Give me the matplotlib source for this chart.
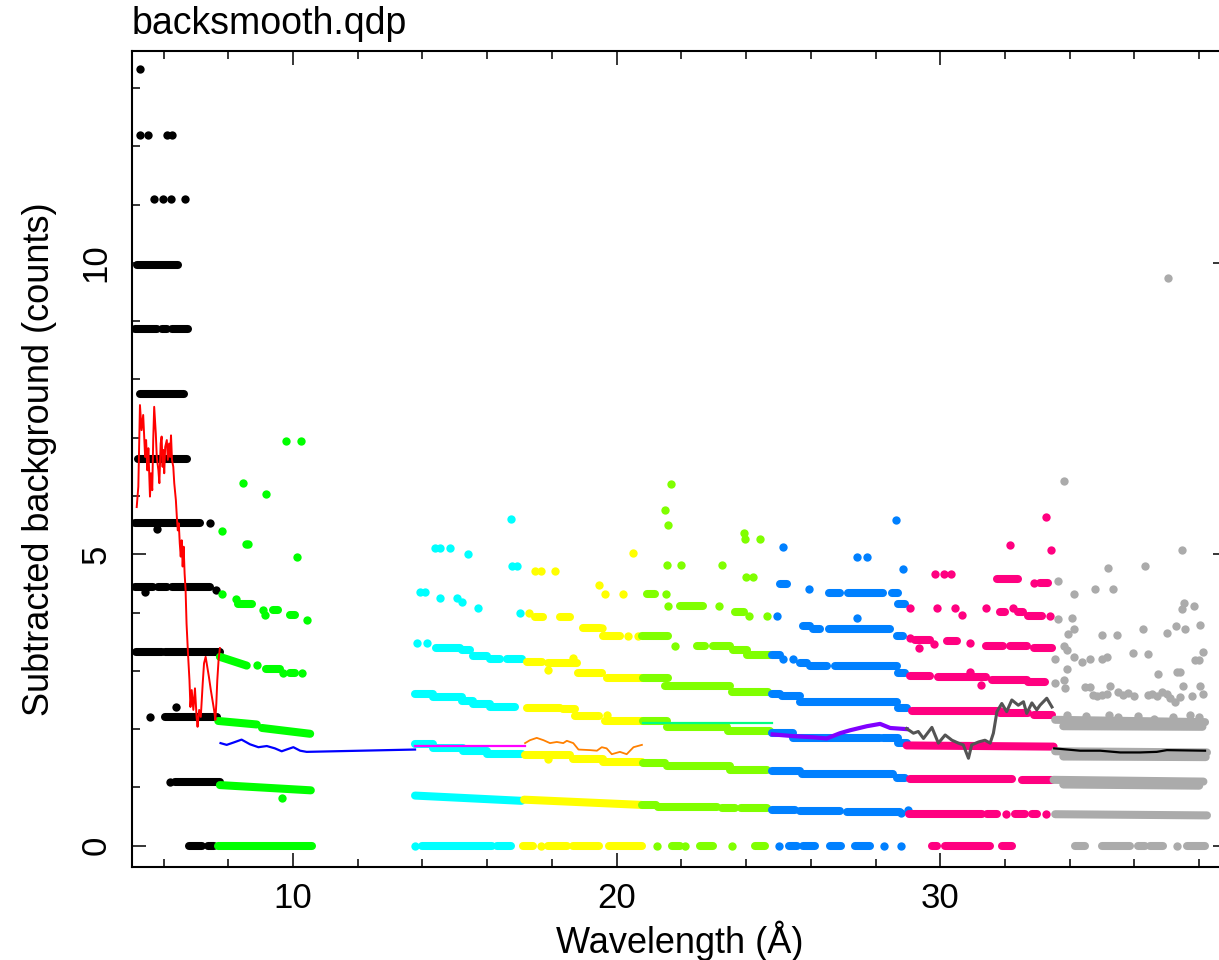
import matplotlib
matplotlib.use("Agg")
import matplotlib.pyplot as plt
from matplotlib.ticker import MultipleLocator

plt.rcParams['font.family'] = ['Liberation Sans', 'DejaVu Sans']

# PGPLOT colour indices used by QDP
C_BLACK = (0, 0, 0)
C_RED = (1, 0, 0)
C_GREEN = (0, 1, 0)
C_BLUE = (0, 0, 1)
C_CYAN = (0, 1, 1)
C_MAGENTA = (1, 0, 1)
C_YELLOW = (1, 1, 0)
C_ORANGE = (1, 0.5, 0)
C_CHART = (0.5, 1, 0)
C_SPRING = (0, 1, 0.5)
C_AZURE = (0, 0.5, 1)
C_PURPLE = (0.5, 0, 1)
C_ROSE = (1, 0, 0.5)
C_DGRAY = (0.33, 0.33, 0.33)
C_LGRAY = (0.67, 0.67, 0.67)

# ---- scattered counts: dense runs (x0, x1, y[, y_end]) and single dots (x, y) ----
black_runs = [(5.17, 6.45, 9.97), (5.12, 5.79, 8.86), (5.96, 6.10, 8.86), (6.25, 6.76, 8.86),
              (5.27, 6.64, 7.75), (5.22, 6.71, 6.64), (5.12, 7.13, 5.53),
              (5.12, 5.68, 4.43), (5.84, 6.10, 4.43), (6.25, 7.44, 4.43),
              (5.15, 5.95, 3.32), (6.05, 7.74, 3.32), (6.04, 7.64, 2.21),
              (6.35, 7.74, 1.09), (6.80, 7.20, 0.0), (7.36, 7.56, 0.0)]
black_dots = [(5.27, 13.32), (5.27, 12.20), (5.53, 12.20), (6.12, 12.20), (6.27, 12.20),
              (5.71, 11.09), (5.97, 11.09), (6.22, 11.09), (6.66, 11.09),
              (7.44, 5.53), (5.79, 5.44), (5.43, 4.36), (7.62, 4.38),
              (5.58, 2.21), (6.38, 2.38), (6.20, 1.09)]

green_runs = [(7.69, 10.58, 0.0), (7.74, 10.55, 1.04, 0.95),
              (7.69, 8.88, 2.14, 2.08), (9.04, 10.53, 2.02, 1.92),
              (7.74, 8.57, 3.24, 3.09), (9.18, 9.60, 3.03), (9.91, 10.06, 2.96),
              (8.31, 8.72, 4.15), (9.39, 9.55, 4.04), (9.91, 10.06, 3.96)]
green_dots = [(9.67, 0.82), (8.88, 3.10), (9.70, 2.96), (10.27, 2.96),
              (7.80, 4.32), (8.24, 4.23), (9.08, 4.04), (9.13, 3.96), (10.42, 3.87),
              (7.80, 5.40), (8.55, 5.18), (8.60, 5.18), (10.11, 4.96),
              (8.45, 6.23), (9.18, 6.03), (9.77, 6.95), (10.24, 6.95)]

cyan_runs = [(13.97, 16.14, 0.0), (16.29, 16.75, 0.0), (13.77, 17.06, 0.86, 0.77),
             (13.77, 14.34, 1.74), (14.34, 15.26, 1.68), (15.26, 15.99, 1.62), (15.99, 17.06, 1.57),
             (13.77, 14.34, 2.60), (14.34, 15.21, 2.55), (15.21, 15.57, 2.49),
             (15.57, 16.09, 2.43), (16.09, 16.87, 2.38),
             (14.42, 15.16, 3.40), (15.21, 15.47, 3.35), (15.57, 15.99, 3.25),
             (16.09, 16.40, 3.20), (16.60, 17.06, 3.20)]
cyan_dots = [(13.77, 0.0), (13.82, 3.48), (14.13, 3.48),
             (13.92, 4.36), (14.08, 4.36), (14.54, 4.25), (15.06, 4.25), (15.21, 4.18),
             (15.73, 4.07), (17.01, 4.00), (14.39, 5.11), (14.54, 5.11), (14.85, 5.11),
             (15.42, 5.01), (16.76, 4.80), (16.92, 4.80), (16.74, 5.60)]

yellow_runs = [(17.12, 17.43, 0.0), (17.89, 18.46, 0.0), (18.66, 19.44, 0.0), (19.75, 20.77, 0.0),
               (17.14, 20.77, 0.79, 0.70),
               (17.17, 18.56, 1.56), (18.66, 19.59, 1.48), (19.59, 20.77, 1.43),
               (17.22, 18.25, 2.36), (18.35, 18.71, 2.34), (18.71, 19.44, 2.22), (19.64, 20.77, 2.14),
               (17.22, 17.68, 3.15), (17.89, 18.77, 3.13), (18.82, 19.54, 2.97), (19.69, 20.77, 2.87),
               (17.48, 17.73, 3.92), (18.25, 18.56, 3.92), (18.97, 19.49, 3.73), (19.59, 20.11, 3.60)]
yellow_dots = [(17.65, 0.0), (17.89, 1.48), (19.69, 2.24), (18.66, 3.22), (17.89, 3.01),
               (17.29, 4.00), (19.54, 3.73), (20.36, 3.60), (20.67, 3.60),
               (17.48, 4.71), (17.65, 4.71), (18.10, 4.71), (19.44, 4.48), (19.64, 4.32),
               (20.21, 4.32), (20.50, 5.03)]

chart_runs = [(21.70, 21.96, 0.0), (22.58, 22.99, 0.0), (24.27, 24.58, 0.0),
              (20.77, 21.20, 0.70), (21.29, 23.09, 0.66), (23.25, 23.66, 0.64), (23.85, 24.64, 0.64),
              (20.82, 21.50, 1.42), (21.55, 23.50, 1.36), (23.50, 24.64, 1.30),
              (20.82, 21.55, 2.14), (21.55, 23.40, 2.04), (23.45, 24.74, 1.97),
              (20.82, 21.60, 2.87), (21.50, 23.50, 2.74), (23.55, 24.69, 2.63),
              (20.77, 21.60, 3.60), (22.48, 22.73, 3.43), (22.99, 23.50, 3.43),
              (23.60, 24.02, 3.35), (24.02, 24.74, 3.28),
              (20.93, 21.18, 4.31), (21.96, 22.68, 4.12), (23.66, 23.94, 4.01)]
chart_dots = [(21.26, 0.0), (22.11, 0.0), (23.55, 0.0), (21.81, 3.43),
              (21.52, 4.31), (21.58, 4.12), (23.15, 4.12), (24.10, 3.94), (24.64, 3.94),
              (21.55, 4.82), (21.99, 4.82), (23.25, 4.82), (23.99, 4.61), (24.21, 4.61),
              (23.94, 5.37), (23.97, 5.27), (24.43, 5.27), (21.48, 5.76), (21.60, 5.51),
              (21.68, 6.20)]

azure_runs = [(25.31, 25.57, 0.0), (25.77, 26.13, 0.0), (26.59, 26.94, 0.0), (27.37, 27.84, 0.0),
              (24.79, 25.51, 0.62), (25.67, 26.91, 0.60), (27.11, 28.76, 0.58),
              (24.79, 25.67, 1.29), (25.72, 28.55, 1.23), (28.65, 28.91, 1.16),
              (24.79, 25.46, 1.94), (25.46, 28.14, 1.85), (28.24, 28.70, 1.84), (28.70, 28.96, 1.77),
              (24.79, 25.05, 2.61), (25.10, 25.67, 2.56), (25.67, 28.65, 2.47), (28.70, 28.96, 2.36),
              (24.79, 25.05, 3.28), (25.67, 25.87, 3.14), (25.98, 26.49, 3.09),
              (26.75, 28.65, 3.09), (28.70, 28.91, 2.96),
              (25.77, 25.98, 3.77), (26.08, 26.29, 3.71), (26.55, 28.45, 3.71), (28.65, 28.86, 3.59),
              (25.05, 25.25, 4.49), (26.55, 26.91, 4.33), (27.16, 28.24, 4.33),
              (28.50, 28.70, 4.33), (28.70, 28.91, 4.15)]
azure_dots = [(25.02, 0.0), (28.27, 0.0), (28.79, 0.0), (28.79, 0.56), (29.01, 0.62),
              (25.15, 3.20), (25.46, 3.20), (24.94, 3.94), (27.42, 3.90), (25.93, 4.40),
              (25.13, 5.13), (27.42, 4.96), (27.73, 4.96), (28.84, 4.74), (28.62, 5.58)]

rose_runs = [(29.74, 29.89, 0.0), (30.15, 31.54, 0.0), (31.90, 32.21, 0.0),
             (29.02, 31.29, 0.55), (31.44, 31.75, 0.54), (32.31, 32.62, 0.54), (32.83, 32.99, 0.54),
             (29.07, 32.21, 1.14), (32.52, 33.45, 1.12), (28.96, 33.50, 1.72, 1.70),
             (29.12, 31.85, 2.31), (31.85, 32.72, 2.28), (32.88, 33.45, 2.24),
             (29.07, 29.69, 2.92), (29.94, 31.41, 2.90), (31.59, 32.67, 2.85), (32.72, 33.24, 2.81),
             (29.22, 29.69, 3.53), (30.20, 30.51, 3.52), (31.41, 31.95, 3.43),
             (32.16, 32.67, 3.42), (32.88, 33.45, 3.39),
             (31.85, 32.00, 4.01), (32.41, 32.57, 4.01), (32.72, 33.13, 3.94),
             (31.75, 32.41, 4.57), (33.08, 33.34, 4.51)]
rose_dots = [(32.04, 0.54), (33.27, 0.54), (31.25, 2.76), (30.92, 2.98),
             (29.07, 3.56), (29.33, 3.39), (29.79, 3.46), (30.92, 3.48),
             (29.07, 4.07), (29.89, 4.07), (30.46, 4.07), (30.66, 3.96), (31.41, 4.07),
             (32.24, 4.07), (33.39, 3.94), (29.84, 4.66), (30.10, 4.66), (30.33, 4.66),
             (32.88, 4.51), (32.16, 5.16), (33.41, 5.07), (33.26, 5.64)]

gray_runs = [(34.17, 34.48, 0.0), (34.99, 35.87, 0.0), (36.12, 36.33, 0.0), (36.48, 36.89, 0.0),
             (37.62, 38.18, 0.0), (33.55, 38.24, 0.54, 0.52),
             (33.50, 38.13, 1.13, 1.10), (33.80, 38.00, 1.05, 1.03),
             (33.55, 38.24, 1.62, 1.60), (33.80, 38.20, 1.53, 1.52),
             (33.55, 38.18, 2.16, 2.12), (33.80, 38.10, 2.05, 2.04)]
gray_dots = [(37.30, 0.0), (33.90, 2.25), (34.50, 2.22), (35.20, 2.25), (35.50, 2.20), (36.10, 2.23),
             (36.60, 2.18), (37.20, 2.20), (37.70, 2.24), (38.00, 2.21),
             (33.55, 2.80), (33.81, 2.85), (33.91, 3.03), (33.86, 2.70), (34.48, 2.73), (34.63, 2.73),
             (34.73, 2.58), (34.85, 2.56), (35.00, 2.58), (35.14, 2.60), (35.25, 2.74), (35.50, 2.64),
             (35.65, 2.58), (35.80, 2.62), (35.97, 2.56), (36.41, 2.58), (36.55, 2.61), (36.70, 2.56),
             (36.85, 2.63), (37.00, 2.60), (37.10, 2.53), (37.25, 2.47), (37.40, 2.55), (37.51, 2.74),
             (37.77, 2.56), (38.03, 2.74), (38.13, 2.61),
             (33.53, 3.20), (33.81, 3.43), (33.91, 3.35), (34.14, 3.24), (34.37, 3.16), (34.63, 3.20),
             (34.99, 3.20), (35.14, 3.23), (35.94, 3.31), (36.41, 3.29), (36.72, 2.94), (37.30, 2.98),
             (37.40, 2.98), (37.87, 3.19), (37.98, 3.19), (38.13, 3.33),
             (33.65, 3.89), (34.07, 3.90), (33.96, 3.64), (34.14, 3.72), (34.99, 3.61), (35.45, 3.62),
             (36.26, 3.72), (37.00, 3.65), (37.28, 3.77), (37.56, 3.72), (38.03, 3.79),
             (33.63, 4.55), (34.12, 4.32), (34.77, 4.40), (35.33, 4.40), (37.46, 4.06), (37.54, 4.16),
             (37.84, 4.12), (35.18, 4.77), (36.31, 4.80), (37.46, 5.08), (33.81, 6.26), (37.05, 9.74)]

# ---- smoothed background models ----
red_x = [5.17, 5.22, 5.27, 5.32, 5.37, 5.43, 5.46, 5.50, 5.53, 5.58, 5.61, 5.65, 5.68, 5.71,
         5.76, 5.79, 5.84, 5.87, 5.91, 5.94, 5.97, 5.99, 6.02, 6.05, 6.10, 6.13, 6.17, 6.20,
         6.23, 6.26, 6.30, 6.33, 6.38, 6.41, 6.44, 6.47, 6.50, 6.53, 6.56, 6.59, 6.62, 6.65,
         6.68, 6.71, 6.76, 6.80, 6.83, 6.87, 6.92, 6.97, 7.02, 7.05, 7.10, 7.15, 7.21, 7.25,
         7.30, 7.35, 7.40, 7.46, 7.51, 7.56, 7.60, 7.63, 7.66, 7.70, 7.74]
red_y = [5.81, 6.16, 7.56, 7.13, 7.39, 6.67, 6.96, 6.44, 6.82, 5.99, 6.39, 6.10, 6.96, 7.53,
         7.07, 6.67, 6.44, 6.22, 6.90, 7.02, 6.50, 6.79, 6.39, 6.84, 6.96, 6.62, 6.90, 6.67,
         7.04, 6.62, 6.50, 6.22, 5.93, 5.64, 5.41, 5.53, 5.19, 4.96, 5.24, 4.79, 5.13, 4.67,
         4.39, 3.81, 3.24, 2.84, 2.38, 2.67, 2.33, 2.70, 2.21, 2.04, 2.33, 2.21, 2.79, 3.13,
         3.24, 3.07, 2.90, 2.67, 2.50, 2.33, 2.16, 2.44, 2.84, 3.19, 3.39]
blue_x = [7.76, 7.95, 8.16, 8.41, 8.67, 8.93, 9.19, 9.44, 9.65, 9.80, 10.01, 10.22, 10.42, 13.77]
blue_y = [1.76, 1.73, 1.77, 1.82, 1.74, 1.69, 1.71, 1.67, 1.62, 1.65, 1.69, 1.63, 1.61, 1.65]
magenta_x = [13.77, 17.16]
magenta_y = [1.71, 1.71]
orange_x = [17.17, 17.32, 17.53, 17.74, 17.94, 18.15, 18.35, 18.46, 18.66, 18.82, 19.18, 19.39,
            19.54, 19.69, 19.85, 20.10, 20.31, 20.52, 20.78]
orange_y = [1.76, 1.81, 1.85, 1.81, 1.76, 1.78, 1.76, 1.80, 1.76, 1.65, 1.64, 1.63,
            1.69, 1.67, 1.57, 1.61, 1.57, 1.69, 1.73]
spring_x = [20.82, 24.80]
spring_y = [2.10, 2.10]
purple_x = [24.82, 25.46, 26.08, 26.49, 26.90, 27.21, 27.73, 28.14, 28.45, 28.96]
purple_y = [1.91, 1.88, 1.86, 1.84, 1.93, 1.98, 2.05, 2.09, 2.02, 2.00]
dgray_x = [28.96, 29.17, 29.32, 29.48, 29.74, 29.94, 30.15, 30.36, 30.56, 30.71, 30.87, 30.97,
           31.18, 31.38, 31.54, 31.64, 31.75, 31.90, 32.05, 32.21, 32.41, 32.57, 32.67, 32.83,
           32.98, 33.08, 33.29, 33.45]
dgray_y = [2.01, 1.93, 1.96, 1.84, 2.03, 1.76, 1.90, 1.81, 1.76, 1.73, 1.50, 1.73,
           1.78, 1.81, 1.76, 1.93, 2.30, 2.44, 2.30, 2.50, 2.41, 2.47, 2.27, 2.45,
           2.33, 2.41, 2.53, 2.38]
bline_x = [33.52, 34.32, 34.94, 35.56, 36.17, 36.69, 37.00, 38.18]
bline_y = [1.67, 1.63, 1.63, 1.60, 1.60, 1.61, 1.64, 1.63]

groups = [(black_runs, black_dots, C_BLACK), (green_runs, green_dots, C_GREEN),
          (cyan_runs, cyan_dots, C_CYAN), (yellow_runs, yellow_dots, C_YELLOW),
          (chart_runs, chart_dots, C_CHART), (azure_runs, azure_dots, C_AZURE),
          (rose_runs, rose_dots, C_ROSE), (gray_runs, gray_dots, C_LGRAY)]
models = [(red_x, red_y, C_RED, 1.4), (blue_x, blue_y, C_BLUE, 1.6),
          (magenta_x, magenta_y, C_MAGENTA, 1.6), (orange_x, orange_y, C_ORANGE, 1.3),
          (spring_x, spring_y, C_SPRING, 1.6), (purple_x, purple_y, C_PURPLE, 3.0),
          (dgray_x, dgray_y, C_DGRAY, 2.2), (bline_x, bline_y, C_BLACK, 1.6)]

fig = plt.figure(figsize=(12.19, 9.6), dpi=100)
ax = fig.add_axes([0.1083, 0.0972, 0.8983, 0.85])

for runs, dots, col in groups:
    for r in runs:
        y1 = r[3] if len(r) > 3 else r[2]
        ax.plot([r[0], r[1]], [r[2], y1], color=col, lw=5.8, solid_capstyle='round', zorder=2)
    ax.plot([d[0] for d in dots], [d[1] for d in dots], 'o', color=col, ms=6, mew=0, zorder=2)

for xs, ys, col, lw in models:
    ax.plot(xs, ys, color=col, lw=lw, zorder=3)

ax.set_xlim(5.025, 38.86)
ax.set_ylim(-0.36, 13.64)
ax.xaxis.set_major_locator(MultipleLocator(10))
ax.xaxis.set_minor_locator(MultipleLocator(2))
ax.yaxis.set_major_locator(MultipleLocator(5))
ax.yaxis.set_minor_locator(MultipleLocator(1))
ax.tick_params(which='both', direction='in', top=True, right=True, width=1.1, labelsize=25)
ax.tick_params(which='major', length=10)
ax.tick_params(which='minor', length=5.5)
ax.tick_params(axis='x', pad=11)
ax.tick_params(axis='y', pad=14, labelrotation=90)
for lab in ax.get_yticklabels():
    lab.set_va('center')
for sp in ax.spines.values():
    sp.set_linewidth(1.5)

ax.set_xlabel('Wavelength (Å)', fontsize=26, labelpad=4)
ax.set_ylabel('Subtracted background (counts)', fontsize=26, labelpad=16)
ax.set_title('backsmooth.qdp', loc='left', fontsize=27, pad=12)

fig.savefig('out.png', dpi=100)
